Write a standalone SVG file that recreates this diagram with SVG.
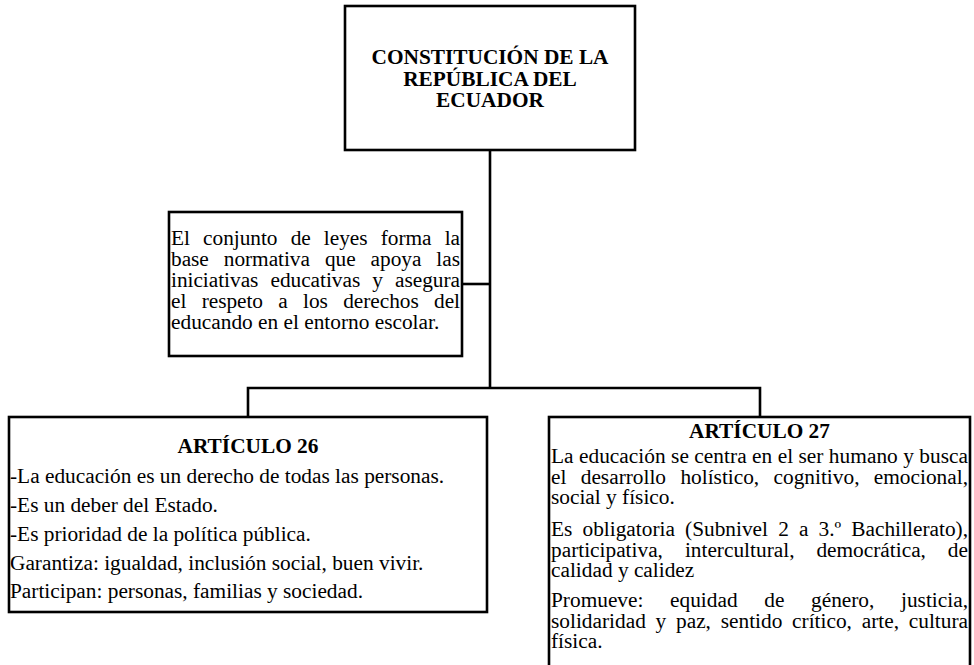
<svg xmlns="http://www.w3.org/2000/svg" width="974" height="665" viewBox="0 0 974 665">
<style>
.box{fill:#fff;stroke:#000;stroke-width:2.6}
.ln{fill:none;stroke:#000;stroke-width:2.6}
text{font-family:"Liberation Serif","Times New Roman",serif;font-size:21.33px;fill:#000}
.b{font-weight:bold}
.c{text-anchor:middle}
</style>
<rect width="974" height="665" fill="#fff"/>
<g id="connectors">
<path class="ln" d="M490,150 V388"/>
<path class="ln" d="M462,284 H490"/>
<path class="ln" d="M248,417 V388 H760 V417"/>
</g>
<g id="constitucion">
<rect class="box" x="345" y="6" width="290" height="144"/>
<text class="b c" x="490" y="64">CONSTITUCIÓN DE LA</text>
<text class="b c" x="490" y="85.5">REPÚBLICA DEL</text>
<text class="b c" x="490" y="107">ECUADOR</text>
</g>
<g id="base-normativa">
<rect class="box" x="169" y="212" width="293" height="144"/>
<text x="171" y="245" word-spacing="7.9" textLength="289" lengthAdjust="spacing">El conjunto de leyes forma la</text>
<text x="171" y="266" word-spacing="9.7" textLength="289" lengthAdjust="spacing">base normativa que apoya las</text>
<text x="171" y="287" word-spacing="6.8" textLength="289" lengthAdjust="spacing">iniciativas educativas y asegura</text>
<text x="171" y="308" word-spacing="10" textLength="289" lengthAdjust="spacing">el respeto a los derechos del</text>
<text x="171" y="329">educando en el entorno escolar.</text>
</g>
<g id="articulo26">
<rect class="box" x="9" y="417" width="478" height="195"/>
<text class="b c" x="248" y="453">ARTÍCULO 26</text>
<text x="10" y="483">-La educación es un derecho de todas las personas.</text>
<text x="10" y="512">-Es un deber del Estado.</text>
<text x="10" y="541">-Es prioridad de la política pública.</text>
<text x="10" y="569.5">Garantiza: igualdad, inclusión social, buen vivir.</text>
<text x="10" y="598">Participan: personas, familias y sociedad.</text>
</g>
<g id="articulo27">
<rect class="box" x="549" y="417" width="421" height="260"/>
<text class="b c" x="759.5" y="438">ARTÍCULO 27</text>
<text x="551" y="463" textLength="417" lengthAdjust="spacing">La educación se centra en el ser humano y busca</text>
<text x="551" y="483.5" word-spacing="9" textLength="417" lengthAdjust="spacing">el desarrollo holístico, cognitivo, emocional,</text>
<text x="551" y="504">social y físico.</text>
<text x="551" y="536" word-spacing="4.8" textLength="417" lengthAdjust="spacing">Es obligatoria (Subnivel 2 a 3.º Bachillerato),</text>
<text x="551" y="556.5" word-spacing="16.6" textLength="417" lengthAdjust="spacing">participativa, intercultural, democrática, de</text>
<text x="551" y="577">calidad y calidez</text>
<text x="551" y="607" word-spacing="21.3" textLength="417" lengthAdjust="spacing">Promueve: equidad de género, justicia,</text>
<text x="551" y="627.5" word-spacing="4.4" textLength="417" lengthAdjust="spacing">solidaridad y paz, sentido crítico, arte, cultura</text>
<text x="551" y="648">física.</text>
</g>
</svg>
